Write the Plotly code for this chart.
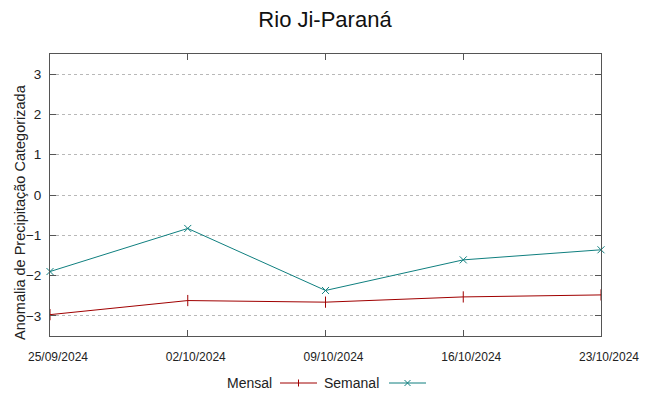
import plotly.graph_objects as go

dates = ["2024-09-25", "2024-10-02", "2024-10-09", "2024-10-16", "2024-10-23"]
tick_labels = ["25/09/2024", "02/10/2024", "09/10/2024", "16/10/2024", "23/10/2024"]
mensal = [-2.97, -2.62, -2.66, -2.53, -2.48]
semanal = [-1.90, -0.83, -2.37, -1.61, -1.36]
y_ticks = [-3, -2, -1, 0, 1, 2, 3]

RED = "#a00000"
TEAL = "#0f7f7f"
FONT = "Liberation Sans, Arial, sans-serif"

# the page body adds an 8px offset; compensate so the screenshot matches
OFF = 8
W, H = 649 - OFF, 396 - OFF
L, R, T, B = 50 - OFF, 48, 54 - OFF, 60

fig = go.Figure()
fig.add_trace(go.Scatter(x=dates, y=mensal, mode="lines+markers", name="Mensal",
                         line=dict(color=RED, width=1),
                         marker=dict(symbol="line-ns", size=8, line=dict(color=RED, width=1)),
                         cliponaxis=False, showlegend=False))
fig.add_trace(go.Scatter(x=dates, y=semanal, mode="lines+markers", name="Semanal",
                         line=dict(color=TEAL, width=1),
                         marker=dict(symbol="x-thin", size=7, line=dict(color=TEAL, width=1)),
                         cliponaxis=False, showlegend=False))

def px_x(p):
    return (p - OFF - L) / (W - L - R)

def px_y(p):
    return (H - B - (p - OFF)) / (H - T - B)

ly = px_y(383)
# legend: text then sample line
fig.add_annotation(x=px_x(274), y=ly, xref="paper", yref="paper", text="Mensal",
                   showarrow=False, xanchor="right", yanchor="middle",
                   font=dict(family=FONT, size=14, color="#222"))
fig.add_shape(type="line", xref="paper", yref="paper", x0=px_x(280), x1=px_x(317),
              y0=ly, y1=ly, line=dict(color=RED, width=1))
fig.add_shape(type="line", xref="paper", yref="paper", x0=px_x(298.5), x1=px_x(298.5),
              y0=px_y(379.5), y1=px_y(386.5), line=dict(color=RED, width=1))
fig.add_annotation(x=px_x(381), y=ly, xref="paper", yref="paper", text="Semanal",
                   showarrow=False, xanchor="right", yanchor="middle",
                   font=dict(family=FONT, size=14, color="#222"))
fig.add_shape(type="line", xref="paper", yref="paper", x0=px_x(389), x1=px_x(426),
              y0=ly, y1=ly, line=dict(color=TEAL, width=1))
fig.add_shape(type="line", xref="paper", yref="paper", x0=px_x(404.5), x1=px_x(410.5),
              y0=px_y(380), y1=px_y(386), line=dict(color=TEAL, width=1))
fig.add_shape(type="line", xref="paper", yref="paper", x0=px_x(404.5), x1=px_x(410.5),
              y0=px_y(386), y1=px_y(380), line=dict(color=TEAL, width=1))

# y-axis title
fig.add_annotation(x=px_x(20), y=px_y(212), xref="paper", yref="paper",
                   text="Anomalia de Precipitação Categorizada", textangle=-90,
                   showarrow=False, xanchor="center", yanchor="middle",
                   font=dict(family=FONT, size=14.5, color="#222"))

fig.update_layout(
    width=W, height=H,
    margin=dict(l=L, r=R, t=T, b=B, autoexpand=False),
    paper_bgcolor="white", plot_bgcolor="white",
    font=dict(family=FONT, color="#222"),
    title=dict(text="Rio Ji-Paraná", x=(325 - OFF) / W, xanchor="center",
               y=1 - (19 - OFF) / H, yanchor="middle",
               font=dict(family=FONT, size=22, color="#111")),
    showlegend=False,
)
fig.update_xaxes(
    type="date", range=[dates[0], dates[-1]],
    tickvals=dates, ticktext=tick_labels,
    ticks="inside", ticklen=6, tickcolor="#555", tickwidth=1,
    ticklabelshift=8, ticklabelstandoff=10,
    showgrid=False, zeroline=False, automargin=False,
    showline=True, linecolor="#555", linewidth=1, mirror="ticks",
    tickfont=dict(family=FONT, size=12, color="#222"),
)
fig.update_yaxes(
    range=[-3.5, 3.5], tickvals=y_ticks,
    ticks="inside", ticklen=6, tickcolor="#555", tickwidth=1,
    ticklabelstandoff=5,
    showgrid=True, gridcolor="#b8b8b8", griddash="dot", gridwidth=1,
    zeroline=False, automargin=False,
    showline=True, linecolor="#555", linewidth=1, mirror="ticks",
    tickfont=dict(family=FONT, size=13.5, color="#222"),
)

fig.write_html("out.html")
